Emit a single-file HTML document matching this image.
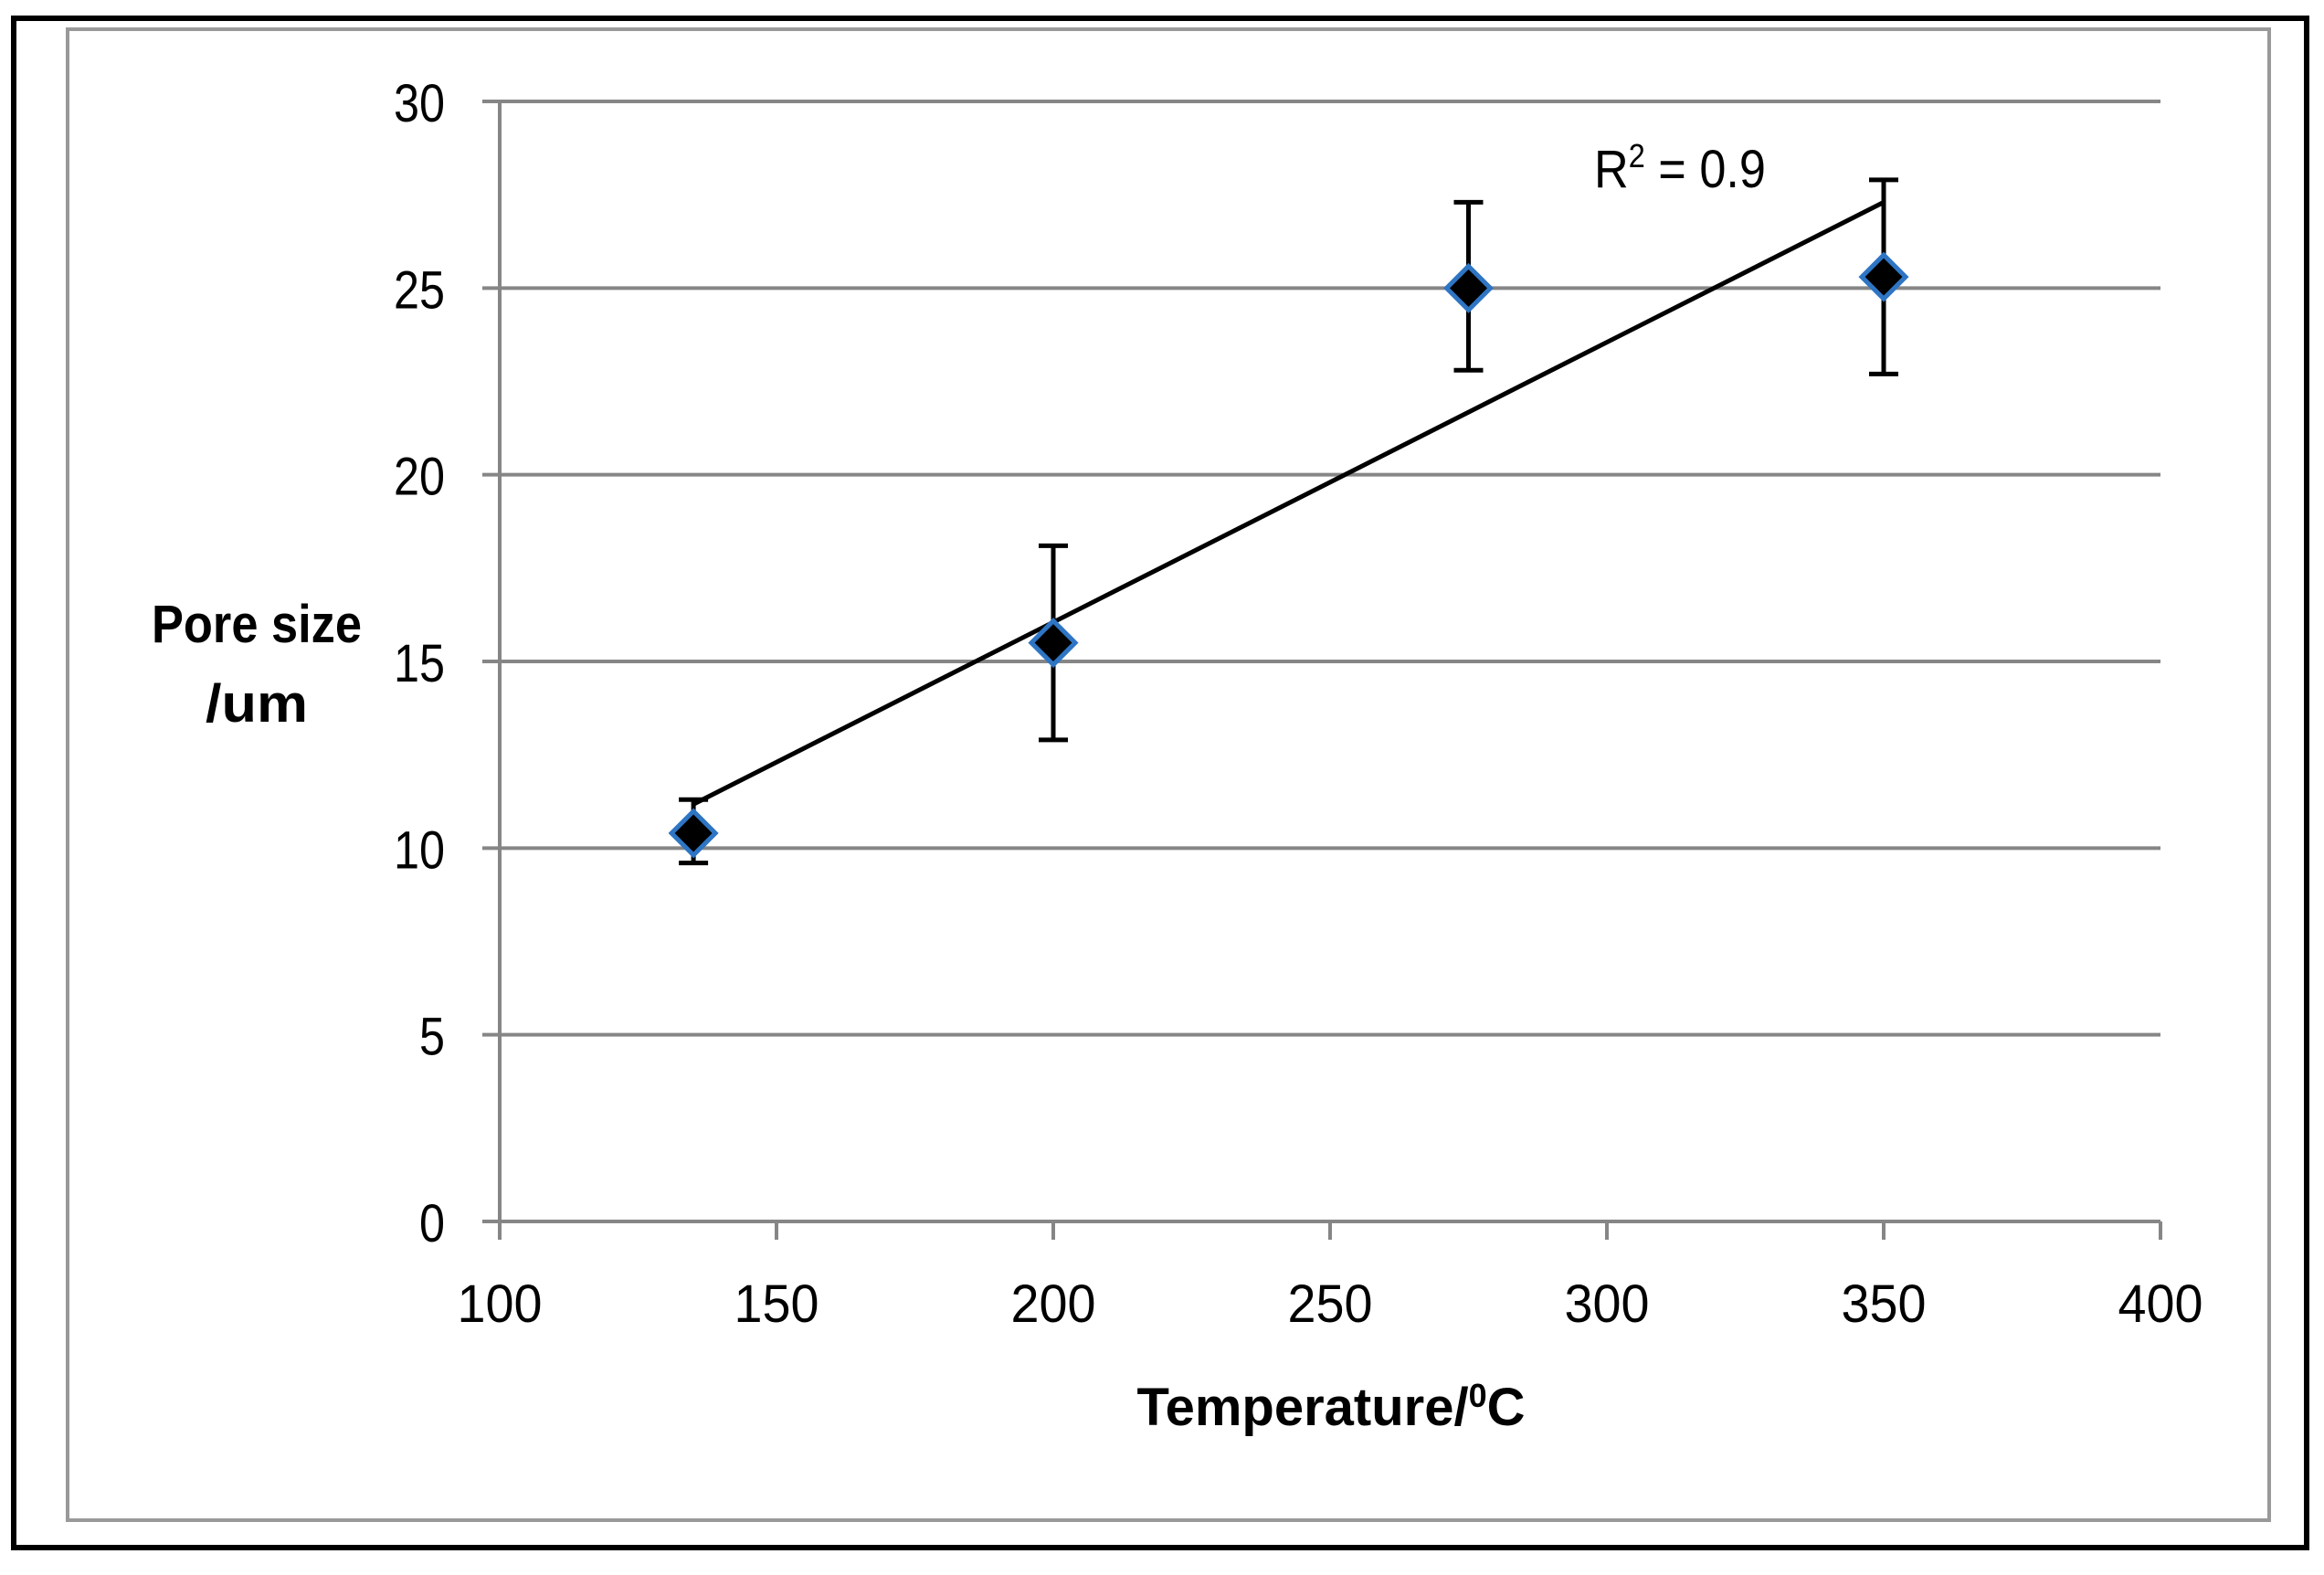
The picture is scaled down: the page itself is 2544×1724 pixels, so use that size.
<!DOCTYPE html>
<html><head><meta charset="utf-8"><style>
html,body{margin:0;padding:0;background:#fff;}
svg{display:block;}
text{font-family:"Liberation Sans",sans-serif;fill:#000;}
</style></head><body>
<svg id="chart" width="2544" height="1724" viewBox="0 0 2544 1724">
<rect x="15" y="20" width="2510" height="1674" fill="#fff" stroke="#000" stroke-width="6"/>
<rect x="74" y="32" width="2410" height="1632" fill="#fff" stroke="#999" stroke-width="4"/>
<g id="grid"></g>
<g id="axes"></g>
<g id="trend"></g>
<g id="marks"></g>
<text x="1745" y="205" font-size="58" textLength="188" lengthAdjust="spacingAndGlyphs">R<tspan dy="-22" font-size="36">2</tspan><tspan dy="22"> = 0.9</tspan></text>
<text x="281" y="703" font-size="58" font-weight="bold" text-anchor="middle" textLength="230" lengthAdjust="spacingAndGlyphs">Pore size</text>
<text x="281" y="790" font-size="58" font-weight="bold" text-anchor="middle" textLength="112" lengthAdjust="spacingAndGlyphs">/um</text>
<text x="1457" y="1560" font-size="58" font-weight="bold" text-anchor="middle" textLength="425" lengthAdjust="spacingAndGlyphs">Temperature/<tspan dy="-20" font-size="36">0</tspan><tspan dy="20">C</tspan></text>
</svg>
<script>
const temps = [135, 200, 275, 350];
const poreSize = [10.4, 15.5, 25.0, 25.3];
const errUpper = [11.3, 18.1, 27.3, 27.9];
const errLower = [9.6, 12.9, 22.8, 22.7];
const xTicks = [100, 150, 200, 250, 300, 350, 400];
const yTicks = [0, 5, 10, 15, 20, 25, 30];

const NS = 'http://www.w3.org/2000/svg';
const X0 = 547, X1 = 2365, Y0 = 1337, Y1 = 111;
function sx(v){ return X0 + (v - 100) / 300 * (X1 - X0); }
function sy(v){ return Y0 - v / 30 * (Y0 - Y1); }
function mk(tag, attrs, parent){
  const e = document.createElementNS(NS, tag);
  for (const k in attrs) e.setAttribute(k, attrs[k]);
  parent.appendChild(e);
  return e;
}
const grid = document.getElementById('grid');
const axes = document.getElementById('axes');
const trend = document.getElementById('trend');
const marks = document.getElementById('marks');

yTicks.forEach(function(t){
  const y = sy(t);
  if (t > 0) {
    const l = mk('line', {x1: X0 - 19, x2: X1, y1: y, y2: y, stroke: '#868686', 'stroke-width': 4}, grid);
    
    
  }
  const tx = mk('text', {x: 487, y: y + 22, 'font-size': 58, 'text-anchor': 'end', textLength: String(t).length * 28, lengthAdjust: 'spacingAndGlyphs'}, axes);
  tx.textContent = t;
  
  
});
const ya = mk('line', {x1: X0, x2: X0, y1: Y1, y2: Y0, stroke: '#868686', 'stroke-width': 4}, axes);


const xa = mk('line', {x1: X0 - 19, x2: X1, y1: Y0, y2: Y0, stroke: '#868686', 'stroke-width': 4}, axes);


xTicks.forEach(function(t){
  const x = sx(t);
  const tk = mk('line', {x1: x, x2: x, y1: Y0, y2: Y0 + 20, stroke: '#868686', 'stroke-width': 4}, axes);
  
  
  const tx = mk('text', {x: x, y: 1447, 'font-size': 58, 'text-anchor': 'middle', textLength: String(t).length * 31, lengthAdjust: 'spacingAndGlyphs'}, axes);
  tx.textContent = t;
  
  
});

const n = temps.length;
const mx = temps.reduce((a,b)=>a+b,0)/n, my = poreSize.reduce((a,b)=>a+b,0)/n;
let sxy = 0, sxx = 0;
for (let i = 0; i < n; i++){ sxy += (temps[i]-mx)*(poreSize[i]-my); sxx += (temps[i]-mx)*(temps[i]-mx); }
const slope = sxy / sxx, icpt = my - slope * mx;
const xa0 = Math.min.apply(null, temps), xa1 = Math.max.apply(null, temps);
const tl = mk('line', {x1: sx(xa0), y1: sy(icpt + slope*xa0), x2: sx(xa1), y2: sy(icpt + slope*xa1), stroke: '#000', 'stroke-width': 5}, trend);



temps.forEach(function(t, i){
  const x = sx(t), yu = sy(errUpper[i]), yl = sy(errLower[i]), y = sy(poreSize[i]);
  const g = mk('g', {}, marks);
  
  
  const v = mk('line', {x1: x, x2: x, y1: yu, y2: yl, stroke: '#000', 'stroke-width': 5}, g);
  
  
  const c1 = mk('line', {x1: x-16, x2: x+16, y1: yu, y2: yu, stroke: '#000', 'stroke-width': 5}, g);
  
  
  const c2 = mk('line', {x1: x-16, x2: x+16, y1: yl, y2: yl, stroke: '#000', 'stroke-width': 5}, g);
  
  
  const d = 24;
  const p = mk('polygon', {points: x+','+(y-d)+' '+(x+d)+','+y+' '+x+','+(y+d)+' '+(x-d)+','+y, fill: '#000', stroke: '#2e75c4', 'stroke-width': 5}, g);
  
  
});
</script>
</body></html>
